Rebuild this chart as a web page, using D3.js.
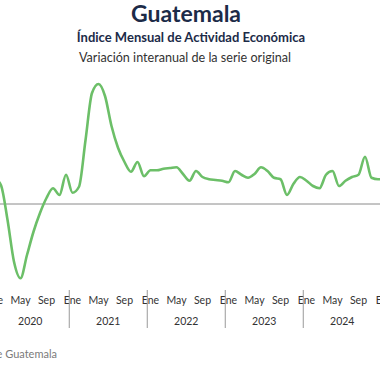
<meta charset="utf-8">
<script src="https://cdn.jsdelivr.net/npm/d3@7"></script>
<style>
body { margin:0; background-color:white; overflow:hidden; }
text { font-family: Lato, "Open Sans", sans-serif; }
</style>
<body>
<div id="rootElement"></div>
<script type="text/javascript">

// meses desde ene-2020
var years = [2020, 2021, 2022, 2023, 2024, 2025];
var monthNames = ['Ene','Feb','Mar','Abr','May','Jun','Jul','Ago','Sep','Oct','Nov','Dic'];
var tickMonths = ['Ene','May','Sep'];

// variación interanual (%) del IMAE
var imae2020 = [3.5, 2.5, -2.1, -7.7, -9.9, -6.8, -3.7, -1.2, 0.8, 2.1, 1.2, 3.9];
var imae2021 = [1.5, 2.3, 8.5, 14.8, 16.0, 14.4, 10.4, 7.5, 5.6, 4.3, 5.6, 3.7];
var imae2022 = [4.5, 4.5, 4.7, 4.8, 4.9, 4.0, 3.1, 4.4, 3.6, 3.3, 3.2, 3.1];
var imae2023 = [2.9, 4.4, 3.9, 3.5, 4.0, 4.9, 4.4, 3.5, 3.3, 1.2, 2.7, 3.6];
var imae2024 = [3.1, 2.4, 2.1, 3.9, 4.4, 2.4, 3.1, 3.6, 3.9, 6.3, 3.5, 3.3];
var imae2025 = [3.3];

var series = [imae2020, imae2021, imae2022, imae2023, imae2024, imae2025];
var data = [];
series.forEach(function(vals, i) {
  vals.forEach(function(v, m) {
    data.push({key: years[i] + '-' + m, year: years[i], month: monthNames[m], value: v});
  });
});

var width = 380, height = 380;

var svg = d3.select('#rootElement').append('svg')
  .attr('width', width)
  .attr('height', height);

var x = d3.scaleBand()
  .domain(data.map(function(d) { return d.key; }))
  .range([-8.75, -8.75 + 6.5 * data.length]);

var y = d3.scaleLinear()
  .domain([-12, 18])
  .range([294, 69]);

var cx = function(d) { return x(d.key) + x.bandwidth() / 2; };

// titulos
svg.append('text').attr('x', 186).attr('y', 22)
  .attr('text-anchor', 'middle')
  .style('font-size', '23px').style('font-weight', 'bold').style('fill', '#1c2b48')
  .text('Guatemala');
svg.append('text').attr('x', 191).attr('y', 42)
  .attr('text-anchor', 'middle')
  .style('font-size', '13px').style('font-weight', 'bold').style('fill', '#1c2b48')
  .text('Índice Mensual de Actividad Económica');
svg.append('text').attr('x', 185).attr('y', 62)
  .attr('text-anchor', 'middle')
  .style('font-size', '12.6px').style('fill', '#333')
  .text('Variación interanual de la serie original');

// linea cero
svg.append('line')
  .attr('x1', 0).attr('x2', width)
  .attr('y1', y(0)).attr('y2', y(0))
  .style('stroke', '#8a8a8a').style('stroke-width', 1);

var line = d3.line()
  .x(cx)
  .y(function(d) { return y(d.value); })
  .curve(d3.curveMonotoneX);

svg.append('path')
  .datum(data)
  .attr('d', line)
  .style('fill', 'none')
  .style('stroke', '#6cbf68')
  .style('stroke-width', 2.6);

// eje de meses
var ticks = data.filter(function(d) { return tickMonths.indexOf(d.month) >= 0; });
var axis = d3.axisBottom(x)
  .tickValues(ticks.map(function(d) { return d.key; }))
  .tickFormat(function(k) { return monthNames[+k.split('-')[1]]; })
  .tickSize(0)
  .tickPadding(0);

var gx = svg.append('g').attr('transform', 'translate(0,297)').call(axis);
gx.select('.domain').remove();
gx.selectAll('text').style('font-size', '10.5px').style('fill', '#333').style('font-family', 'Lato, sans-serif');

// separadores y años
years.forEach(function(yr) {
  var k0 = yr + '-0';
  if (x(k0) === undefined) return;
  if (yr > 2020) {
    svg.append('line')
      .attr('x1', x(k0)).attr('x2', x(k0))
      .attr('y1', 290).attr('y2', 328)
      .style('stroke', '#999').style('stroke-width', 1);
  }
  if (yr < 2025) {
    svg.append('text')
      .attr('x', x(k0) + 6 * x.step())
      .attr('y', 325)
      .attr('text-anchor', 'middle')
      .style('font-size', '10.5px').style('fill', '#333')
      .text(yr);
  }
});

svg.append('text').attr('x', 57).attr('y', 358)
  .attr('text-anchor', 'end')
  .style('font-size', '11px').style('fill', '#7a7a7a')
  .text('Fuente: Banco de Guatemala');

</script>
</body>
